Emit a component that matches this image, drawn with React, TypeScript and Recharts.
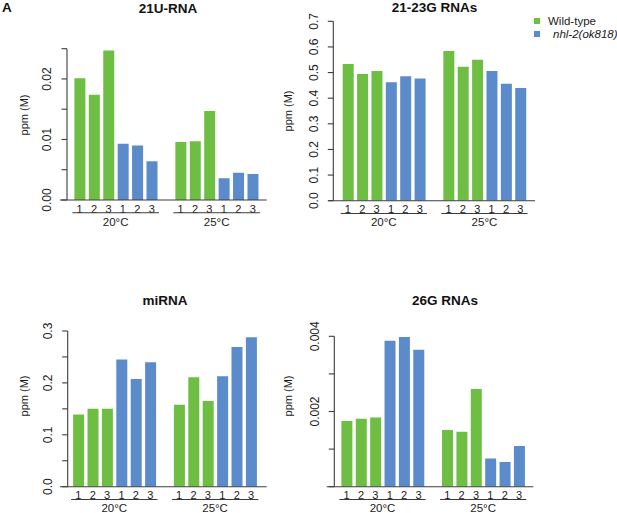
import { Bar, BarChart, ReferenceLine, XAxis, YAxis } from "recharts";

// ---------------------------------------------------------------------------
// Data — small RNA class abundance per library (ppm of mapped reads, millions)
// Value order in every series: 20°C WT 1-3, 20°C mutant 1-3, 25°C WT 1-3, 25°C mutant 1-3
// ---------------------------------------------------------------------------

const temperatures = ["20°C", "25°C"];
const genotypes = ["Wild-type", "nhl-2(ok818)"];
const replicates = ["1", "2", "3"];
const genotypeColors = ["#6fbe44", "#5b8bca"];

const u21Values = [0.0201, 0.0174, 0.0247, 0.0093, 0.009, 0.0064, 0.0096, 0.0097, 0.0147, 0.0036, 0.0045, 0.0043];
const g2123Values = [0.533, 0.494, 0.506, 0.462, 0.486, 0.477, 0.584, 0.523, 0.55, 0.506, 0.456, 0.44];
const mirnaValues = [0.139, 0.15, 0.15, 0.245, 0.2075, 0.24, 0.158, 0.211, 0.165, 0.213, 0.269, 0.288];
const g26Values = [0.00175, 0.00181, 0.00184, 0.00388, 0.00398, 0.00364, 0.00151, 0.00146, 0.0026, 0.00075, 0.00066, 0.00108];

const u21Ticks = [0, 0.005, 0.01, 0.015, 0.02, 0.025];
const u21TickLabels = ["0.00", "", "0.01", "", "0.02", ""];
const g2123Ticks = [0, 0.1, 0.2, 0.3, 0.4, 0.5, 0.6, 0.7];
const g2123TickLabels = ["0.0", "0.1", "0.2", "0.3", "0.4", "0.5", "0.6", "0.7"];
const mirnaTicks = [0, 0.05, 0.1, 0.15, 0.2, 0.25, 0.3];
const mirnaTickLabels = ["0.0", "", "0.1", "", "0.2", "", "0.3"];
const g26Ticks = [0, 0.001, 0.002, 0.003, 0.004];
const g26TickLabels = ["", "", "0.002", "", "0.004"];

const FONT = '"Liberation Sans", Arial, Helvetica, sans-serif';
const AXIS = "#3c3c3c";
const TEXT = "#1a1a1a";

// ---------------------------------------------------------------------------
// Rows: one slot per library, with an empty slot between temperature groups
// ---------------------------------------------------------------------------

interface Row {
  slot: string;
  pos: number;
  rep: string;
  wt: number | null;
  mut: number | null;
}

function buildRows(values: number[]): Row[] {
  const rows: Row[] = [];
  let k = 0;
  temperatures.forEach((t, ti) => {
    if (ti > 0) rows.push({ slot: `gap-${ti}`, pos: rows.length, rep: "", wt: null, mut: null });
    genotypes.forEach((_, gi) => {
      replicates.forEach((r) => {
        const v = values[k++];
        rows.push({
          slot: `${t}-${gi}-${r}`,
          pos: rows.length,
          rep: r,
          wt: gi === 0 ? v : null,
          mut: gi === 1 ? v : null,
        });
      });
    });
  });
  return rows;
}

// ---------------------------------------------------------------------------
// Panel geometry (page pixels)
// ---------------------------------------------------------------------------

interface PanelLayout {
  left: number;
  top: number;
  width: number;
  height: number;
  axisX: number;
  plotTop: number;
  plotRight: number;
  plotBottom: number;
  padL: number;
  padR: number;
  ext: number;
  titleX: number;
  titleY: number;
  ylabX: number;
  ylabY: number;
}

const REP_H = 12.8;
const GRP_H = 20;

interface PanelProps {
  title: string;
  values: number[];
  ticks: number[];
  tickLabels: string[];
  L: PanelLayout;
}

function Panel({ title, values, ticks, tickLabels, L }: PanelProps) {
  const rows = buildRows(values);
  const margin = {
    top: L.plotTop - L.top,
    right: L.left + L.width - L.plotRight,
    left: 0,
    bottom: L.height - (L.plotBottom - L.top) - REP_H - GRP_H,
  };
  const step = (L.plotRight - L.axisX - L.padL - L.padR) / rows.length;
  const groupSize = genotypes.length * replicates.length;
  const groupCenters = temperatures.map((_, ti) => ti * (groupSize + 1) + (groupSize - 1) / 2);
  const repBySlot = new Map(rows.map((r) => [r.slot, r.rep]));

  const renderRepTick = (p: any) => (
    <text
      x={p.x}
      y={p.y + 8.6}
      textAnchor="middle"
      dominantBaseline="central"
      fontSize={11}
      fontFamily={FONT}
      fill={TEXT}
    >
      {repBySlot.get(p.payload.value) ?? ""}
    </text>
  );

  const renderGroupTick = (p: any) => {
    const gi = groupCenters.findIndex((c) => Math.abs(c - p.payload.value) < 1e-6);
    const half = (groupSize * step) / 2;
    return (
      <g>
        <line x1={p.x - half} x2={p.x + half} y1={p.y} y2={p.y} stroke={AXIS} strokeWidth={1.1} />
        <text
          x={p.x}
          y={p.y + 8.8}
          textAnchor="middle"
          dominantBaseline="central"
          fontSize={11.5}
          fontFamily={FONT}
          fill={TEXT}
        >
          {temperatures[gi] ?? ""}
        </text>
      </g>
    );
  };

  const renderYTick = (p: any) => {
    const i = ticks.findIndex((t) => Math.abs(t - p.payload.value) < 1e-9);
    return (
      <text
        x={p.x}
        y={p.y}
        transform={`rotate(-90 ${p.x} ${p.y})`}
        textAnchor="middle"
        fontSize={12}
        fontFamily={FONT}
        fill={TEXT}
      >
        {tickLabels[i] ?? ""}
      </text>
    );
  };

  const renderYLabel = () => {
    const x = L.ylabX - L.left;
    const y = L.ylabY - L.top;
    return (
      <text
        x={x}
        y={y}
        transform={`rotate(-90 ${x} ${y})`}
        textAnchor="middle"
        dominantBaseline="central"
        fontSize={11}
        fontFamily={FONT}
        fill={TEXT}
      >
        ppm (M)
      </text>
    );
  };

  return (
    <>
      <div
        style={{
          position: "absolute",
          left: L.titleX,
          top: L.titleY,
          transform: "translate(-50%, -50%)",
          fontFamily: FONT,
          fontWeight: "bold",
          fontSize: 13.5,
          color: "#111",
          whiteSpace: "nowrap",
        }}
      >
        {title}
      </div>
      <div style={{ position: "absolute", left: L.left, top: L.top }}>
        <BarChart width={L.width} height={L.height} data={rows} margin={margin}>
          {/* replicate numbers, directly under the baseline */}
          <XAxis
            xAxisId={0}
            dataKey="slot"
            type="category"
            interval={0}
            height={REP_H}
            axisLine={false}
            tickLine={false}
            tickSize={0}
            tickMargin={0}
            padding={{ left: L.padL, right: L.padR }}
            tick={renderRepTick}
          />
          {/* temperature groups: underline + label, centred on each group */}
          <XAxis
            xAxisId={1}
            dataKey="pos"
            type="number"
            domain={[-0.5, rows.length - 0.5]}
            allowDataOverflow
            ticks={groupCenters}
            interval={0}
            height={GRP_H}
            axisLine={false}
            tickLine={false}
            tickSize={0}
            tickMargin={0}
            padding={{ left: L.padL, right: L.padR }}
            tick={renderGroupTick}
          />
          <YAxis
            type="number"
            domain={[0, ticks[ticks.length - 1]]}
            allowDataOverflow
            ticks={ticks}
            interval={0}
            width={L.axisX - L.left}
            axisLine={{ stroke: AXIS, strokeWidth: 1.1 }}
            tickLine={{ stroke: AXIS, strokeWidth: 1.1 }}
            tickSize={5.5}
            tickMargin={10.2}
            tick={renderYTick}
            label={renderYLabel}
          />
          <Bar
            xAxisId={0}
            dataKey="wt"
            name={genotypes[0]}
            stackId="g"
            fill={genotypeColors[0]}
            barSize={11}
            isAnimationActive={false}
          />
          <Bar
            xAxisId={0}
            dataKey="mut"
            name={genotypes[1]}
            stackId="g"
            fill={genotypeColors[1]}
            barSize={11}
            isAnimationActive={false}
          />
          {/* baseline: R draws it slightly past the y axis on the left */}
          <ReferenceLine
            xAxisId={0}
            y={0}
            stroke={AXIS}
            strokeWidth={1.1}
            shape={(p: any) => (
              <line x1={p.x1 - L.ext} x2={p.x2} y1={p.y1} y2={p.y2} stroke={AXIS} strokeWidth={1.1} />
            )}
          />
        </BarChart>
      </div>
    </>
  );
}

const topLeft: PanelLayout = {
  left: 0, top: 0, width: 280, height: 250,
  axisX: 67, plotTop: 48.7, plotRight: 266.7, plotBottom: 200,
  padL: 5.4, padR: 6.8, ext: 7,
  titleX: 168, titleY: 7.5, ylabX: 24, ylabY: 115,
};
const topRight: PanelLayout = {
  left: 275, top: 0, width: 342, height: 250,
  axisX: 333.3, plotTop: 21.3, plotRight: 535, plotBottom: 200.7,
  padL: 7.4, padR: 7.4, ext: 5,
  titleX: 434.5, titleY: 6.5, ylabX: 288, ylabY: 111,
};
const bottomLeft: PanelLayout = {
  left: 0, top: 260, width: 280, height: 290,
  axisX: 67.7, plotTop: 331, plotRight: 266.7, plotBottom: 486.7,
  padL: 3.4, padR: 8.4, ext: 7.7,
  titleX: 165, titleY: 299.5, ylabX: 24, ylabY: 396,
};
const bottomRight: PanelLayout = {
  left: 275, top: 260, width: 342, height: 290,
  axisX: 334.3, plotTop: 336.3, plotRight: 533.3, plotBottom: 486.7,
  padL: 5.1, padR: 7, ext: 7.6,
  titleX: 445, titleY: 300, ylabX: 288, ylabY: 396,
};

function LegendBox() {
  return (
    <div style={{ position: "absolute", left: 534, top: 14, fontFamily: FONT, fontSize: 11.5, color: TEXT }}>
      {genotypes.map((g, i) => (
        <div key={g} style={{ display: "flex", alignItems: "center", height: 13.5, whiteSpace: "nowrap" }}>
          <span style={{ width: 6, height: 6, background: genotypeColors[i], display: "inline-block" }} />
          <span style={{ marginLeft: i === 0 ? 8 : 13, fontStyle: i === 1 ? "italic" : "normal" }}>{g}</span>
        </div>
      ))}
    </div>
  );
}

export default function App() {
  return (
    <div
      style={{
        position: "absolute",
        left: 0,
        top: 0,
        width: 617,
        height: 513,
        overflow: "hidden",
        background: "#fff",
        fontFamily: FONT,
      }}
    >
      <div style={{ position: "absolute", left: 2, top: 0, fontWeight: "bold", fontSize: 13.5, color: "#111" }}>A</div>
      <Panel title="21U-RNA" values={u21Values} ticks={u21Ticks} tickLabels={u21TickLabels} L={topLeft} />
      <Panel title="21-23G RNAs" values={g2123Values} ticks={g2123Ticks} tickLabels={g2123TickLabels} L={topRight} />
      <Panel title="miRNA" values={mirnaValues} ticks={mirnaTicks} tickLabels={mirnaTickLabels} L={bottomLeft} />
      <Panel title="26G RNAs" values={g26Values} ticks={g26Ticks} tickLabels={g26TickLabels} L={bottomRight} />
      <LegendBox />
    </div>
  );
}
